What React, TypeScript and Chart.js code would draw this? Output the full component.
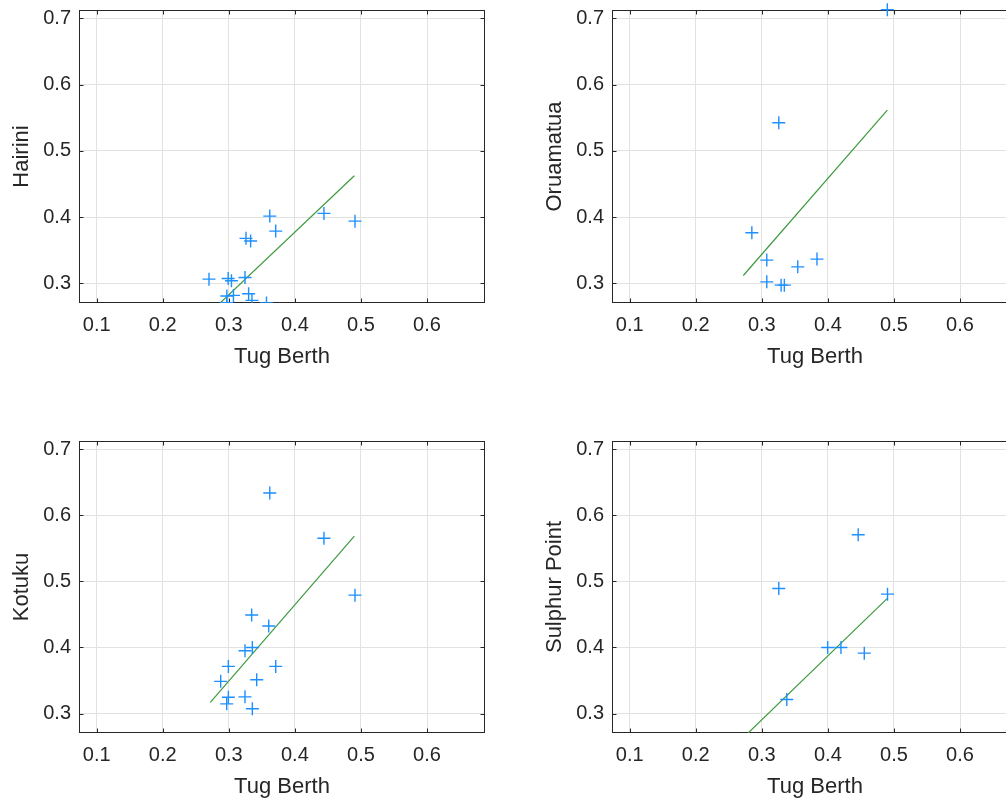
import React, { useEffect, useRef } from "react";
import { Chart, registerables } from "chart.js";

Chart.register(...registerables);

const xTicks = [0.1, 0.2, 0.3, 0.4, 0.5, 0.6];
const yTicks = [0.3, 0.4, 0.5, 0.6, 0.7];
const xLimits = [0.0732, 0.6878];
const yLimits = [0.2705, 0.7125];
const xAxisLabel = "Tug Berth";

// Hairini vs Tug Berth
const hairiniX = [0.270, 0.299, 0.304, 0.3245, 0.297, 0.307, 0.297, 0.330, 0.335, 0.357, 0.326, 0.333, 0.362, 0.371, 0.444, 0.491];
const hairiniY = [0.3065, 0.3075, 0.304, 0.309, 0.281, 0.282, 0.271, 0.2845, 0.2745, 0.2705, 0.368, 0.364, 0.4016, 0.379, 0.4057, 0.394];

// Oruamatua vs Tug Berth
const oruamatuaX = [0.490, 0.3257, 0.2849, 0.3075, 0.3075, 0.3292, 0.3341, 0.3544, 0.3835];
const oruamatuaY = [0.713, 0.5424, 0.3764, 0.3352, 0.3024, 0.2974, 0.2974, 0.325, 0.3367];

// Kotuku vs Tug Berth
const kotukuX = [0.362, 0.444, 0.491, 0.3346, 0.3604, 0.3245, 0.3356, 0.2993, 0.371, 0.2877, 0.3422, 0.2993, 0.3245, 0.2968, 0.3356];
const kotukuY = [0.6338, 0.5654, 0.4792, 0.4491, 0.4325, 0.3949, 0.3999, 0.3713, 0.3713, 0.3487, 0.3512, 0.3246, 0.3252, 0.3146, 0.3071];

// Sulphur Point vs Tug Berth
const sulphurX = [0.4459, 0.3257, 0.4903, 0.3997, 0.4198, 0.4551, 0.3378];
const sulphurY = [0.5705, 0.4893, 0.4807, 0.3999, 0.3999, 0.3914, 0.3211];

// Fitted lines (x endpoints shared)
const fitX = [0.272, 0.49];
const hairiniFit = [0.2565, 0.4625];
const oruamatuaFit = [0.312, 0.5614];
const kotukuFit = [0.317, 0.5686];
const sulphurFit = [0.2635, 0.4743];

const TEXT = "#262626";
const BLUE = "#1E8FFF";
const GREEN = "#3d9a3d";
const FONT = "'Liberation Sans', Arial, Helvetica, sans-serif";

const boxPlugin = {
  id: "matlabBox",
  beforeDatasetsDraw(chart: any) {
    const { ctx, chartArea: a, scales } = chart;
    ctx.save();
    ctx.strokeStyle = TEXT;
    ctx.lineWidth = 1;
    const l = Math.round(a.left) + 0.5;
    const r = Math.round(a.right) - 0.5;
    const t = Math.round(a.top) + 0.5;
    const b = Math.round(a.bottom) - 0.5;
    ctx.strokeRect(l, t, r - l, b - t);
    const tl = 4;
    ctx.beginPath();
    for (const v of xTicks) {
      const px = Math.round(scales.x.getPixelForValue(v)) + 0.5;
      ctx.moveTo(px, b);
      ctx.lineTo(px, b - tl);
      ctx.moveTo(px, t);
      ctx.lineTo(px, t + tl);
    }
    for (const v of yTicks) {
      const py = Math.round(scales.y.getPixelForValue(v)) + 0.5;
      ctx.moveTo(l, py);
      ctx.lineTo(l + tl, py);
      ctx.moveTo(r, py);
      ctx.lineTo(r - tl, py);
    }
    ctx.stroke();
    ctx.restore();
  },
};

type PanelProps = {
  yLabel: string;
  xs: number[];
  ys: number[];
  fit: number[];
  left: number;
  top: number;
  height: number;
};

const CANVAS_W = 495;
const Y_AXIS_W = 79;
const X_AXIS_H = 67;

function zeroPad(s: any) {
  s.paddingTop = 0;
  s.paddingBottom = 0;
  s.paddingLeft = 0;
  s.paddingRight = 0;
}

function Panel({ yLabel, xs, ys, fit, left, top, height }: PanelProps) {
  const ref = useRef<HTMLCanvasElement | null>(null);
  useEffect(() => {
    if (!ref.current) return;
    const chart = new Chart(ref.current, {
      type: "scatter",
      data: {
        datasets: [
          {
            type: "line",
            data: fitX.map((x, i) => ({ x, y: fit[i] })),
            borderColor: GREEN,
            borderWidth: 1.2,
            pointRadius: 0,
            fill: false,
            order: 2,
          } as any,
          {
            type: "scatter",
            data: xs.map((x, i) => ({ x, y: ys[i] })),
            pointStyle: "cross",
            pointRadius: 6.5,
            pointBorderWidth: 1.4,
            borderColor: BLUE,
            backgroundColor: BLUE,
            clip: { left: 0, right: 0, bottom: 0, top: false },
            order: 1,
          } as any,
        ],
      },
      options: {
        responsive: false,
        animation: false,
        events: [],
        devicePixelRatio: 1,
        layout: { padding: { left: 0, top: 10, right: 10, bottom: 0 } },
        plugins: { legend: { display: false }, tooltip: { enabled: false } },
        scales: {
          x: {
            type: "linear",
            min: xLimits[0],
            max: xLimits[1],
            afterBuildTicks: (s: any) => {
              s.ticks = xTicks.map((v) => ({ value: v }));
            },
            afterFit: (s: any) => {
              s.height = X_AXIS_H;
              zeroPad(s);
            },
            grid: { color: "#e2e2e2", lineWidth: 1, drawTicks: false },
            border: { display: false },
            ticks: {
              padding: 10,
              color: TEXT,
              font: { family: FONT, size: 20 },
              maxRotation: 0,
              callback: (v: any) => Number(v).toFixed(1),
            },
            title: {
              display: true,
              text: xAxisLabel,
              color: TEXT,
              font: { family: FONT, size: 22 },
              padding: { top: 0, bottom: 0 },
            },
          },
          y: {
            type: "linear",
            min: yLimits[0],
            max: yLimits[1],
            afterBuildTicks: (s: any) => {
              s.ticks = yTicks.map((v) => ({ value: v }));
            },
            afterFit: (s: any) => {
              s.width = Y_AXIS_W;
              zeroPad(s);
            },
            grid: { color: "#e2e2e2", lineWidth: 1, drawTicks: false },
            border: { display: false },
            ticks: {
              padding: 8,
              color: TEXT,
              font: { family: FONT, size: 20 },
              callback: (v: any) => Number(v).toFixed(1),
            },
            title: {
              display: true,
              text: yLabel,
              color: TEXT,
              font: { family: FONT, size: 22 },
              padding: { top: 9, bottom: 0 },
            },
          },
        },
      },
      plugins: [boxPlugin],
    } as any);
    return () => chart.destroy();
  }, [yLabel, xs, ys, fit, height]);

  return (
    <canvas
      ref={ref}
      width={CANVAS_W}
      height={height}
      style={{ position: "absolute", left, top, width: CANVAS_W, height }}
    />
  );
}

export default function App() {
  return (
    <div
      style={{
        position: "fixed",
        left: 0,
        top: 0,
        width: 1006,
        height: 800,
        overflow: "hidden",
        background: "#ffffff",
      }}
    >
      <Panel yLabel="Hairini" xs={hairiniX} ys={hairiniY} fit={hairiniFit} left={0} top={0} height={370} />
      <Panel yLabel="Oruamatua" xs={oruamatuaX} ys={oruamatuaY} fit={oruamatuaFit} left={533} top={0} height={370} />
      <Panel yLabel="Kotuku" xs={kotukuX} ys={kotukuY} fit={kotukuFit} left={0} top={431} height={369} />
      <Panel yLabel="Sulphur Point" xs={sulphurX} ys={sulphurY} fit={sulphurFit} left={533} top={431} height={369} />
    </div>
  );
}
